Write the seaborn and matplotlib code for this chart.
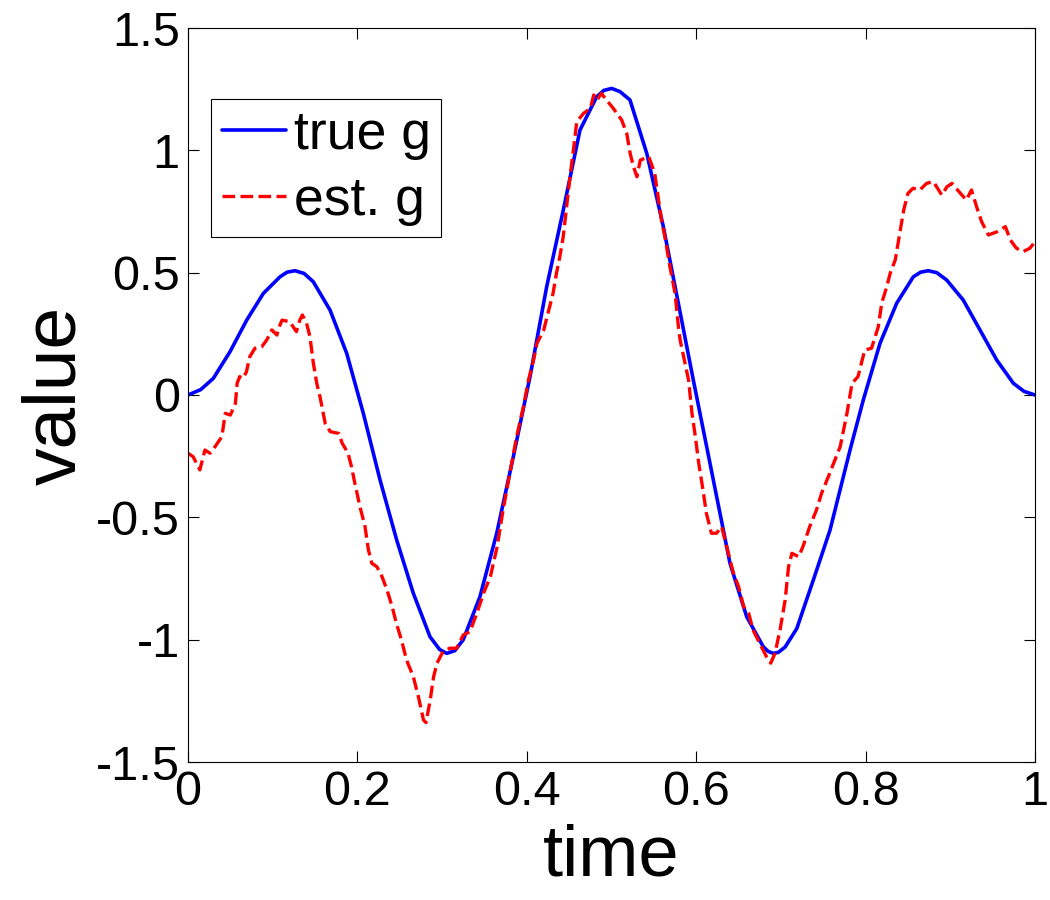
import matplotlib
matplotlib.use('Agg')
import matplotlib.pyplot as plt
import seaborn as sns
import pandas as pd

# true g
t_true = [0.0, 0.015, 0.0299, 0.0496, 0.0693, 0.0889, 0.1086, 0.117, 0.1263, 0.137, 0.1479, 0.1677, 0.1874,
          0.207, 0.2267, 0.2464, 0.266, 0.2857, 0.297, 0.3054, 0.315, 0.325, 0.3447, 0.3645, 0.3841,
          0.4038, 0.4235, 0.4431, 0.4628, 0.4825, 0.491, 0.5002, 0.51, 0.5218, 0.5416, 0.5612, 0.5789,
          0.5966, 0.6202, 0.6399, 0.6596, 0.6792, 0.685, 0.691, 0.697, 0.705, 0.7187, 0.7383, 0.758, 0.7816,
          0.7973, 0.817, 0.8367, 0.8563, 0.865, 0.874, 0.884, 0.8957, 0.9153, 0.935, 0.9548, 0.9744, 0.987, 1.0]
g_true = [0.0, 0.022, 0.068, 0.177, 0.306, 0.415, 0.483, 0.502, 0.508, 0.497, 0.463, 0.347, 0.17,
          -0.075, -0.347, -0.593, -0.81, -0.988, -1.04, -1.056, -1.045, -1.0, -0.824, -0.565, -0.252,
          0.075, 0.443, 0.756, 1.083, 1.219, 1.245, 1.253, 1.24, 1.206, 0.988, 0.688, 0.375,
          0.061, -0.347, -0.688, -0.906, -1.029, -1.048, -1.056, -1.052, -1.03, -0.955, -0.756, -0.552, -0.225,
          -0.02, 0.211, 0.375, 0.483, 0.502, 0.508, 0.5, 0.47, 0.388, 0.266, 0.143, 0.048, 0.015, 0.0]

# estimated g
t_est = [0.0, 0.006, 0.014, 0.02, 0.026, 0.032, 0.04, 0.044, 0.05, 0.056,
         0.058, 0.061, 0.065, 0.069, 0.073, 0.079, 0.087, 0.093, 0.099, 0.105,
         0.107, 0.111, 0.12, 0.128, 0.132, 0.135, 0.14, 0.144, 0.148, 0.152,
         0.156, 0.162, 0.168, 0.178, 0.182, 0.189, 0.193, 0.197, 0.203, 0.209,
         0.213, 0.217, 0.223, 0.229, 0.235, 0.241, 0.246, 0.252, 0.258, 0.266,
         0.272, 0.278, 0.281, 0.286, 0.29, 0.294, 0.301, 0.309, 0.317, 0.325,
         0.333, 0.341, 0.349, 0.357, 0.365, 0.372, 0.38, 0.388, 0.396, 0.402,
         0.408, 0.412, 0.42, 0.425, 0.431, 0.435, 0.439, 0.443, 0.447, 0.451,
         0.455, 0.459, 0.467, 0.475, 0.479, 0.483, 0.488, 0.494, 0.502, 0.512,
         0.518, 0.522, 0.526, 0.53, 0.534, 0.544, 0.551, 0.555, 0.559, 0.563,
         0.569, 0.575, 0.579, 0.581, 0.591, 0.595, 0.599, 0.603, 0.608, 0.612,
         0.618, 0.624, 0.63, 0.636, 0.644, 0.65, 0.656, 0.662, 0.667, 0.675,
         0.683, 0.688, 0.693, 0.699, 0.705, 0.709, 0.713, 0.721, 0.726, 0.734,
         0.742, 0.748, 0.756, 0.77, 0.778, 0.784, 0.791, 0.799, 0.807, 0.815,
         0.819, 0.825, 0.829, 0.835, 0.839, 0.845, 0.85, 0.856, 0.864, 0.872,
         0.88, 0.89, 0.896, 0.902, 0.912, 0.919, 0.925, 0.931, 0.937, 0.945,
         0.955, 0.965, 0.971, 0.978, 0.986, 0.994, 1.0]
g_est = [-0.238, -0.252, -0.306, -0.225, -0.238, -0.211, -0.17, -0.075, -0.082, -0.034,
         0.048, 0.075, 0.068, 0.095, 0.157, 0.191, 0.197, 0.225, 0.266, 0.245,
         0.272, 0.306, 0.3, 0.259, 0.306, 0.327, 0.293, 0.238, 0.13, 0.048,
         -0.01, -0.116, -0.15, -0.157, -0.197, -0.238, -0.293, -0.361, -0.456, -0.538,
         -0.633, -0.688, -0.702, -0.742, -0.797, -0.865, -0.933, -1.001, -1.083, -1.151,
         -1.233, -1.328, -1.339, -1.246, -1.151, -1.096, -1.049, -1.035, -1.035, -0.981,
         -0.967, -0.892, -0.81, -0.742, -0.62, -0.47, -0.32, -0.17, -0.048, 0.061,
         0.143, 0.211, 0.266, 0.334, 0.416, 0.497, 0.565, 0.647, 0.77, 0.892,
         1.001, 1.117, 1.151, 1.172, 1.226, 1.206, 1.233, 1.206, 1.172, 1.124,
         1.069, 0.988, 0.933, 0.892, 0.96, 0.974, 0.906, 0.81, 0.715, 0.647,
         0.524, 0.416, 0.279, 0.225, 0.061, -0.075, -0.17, -0.279, -0.388, -0.483,
         -0.565, -0.565, -0.538, -0.62, -0.729, -0.783, -0.865, -0.892, -0.96, -1.015,
         -1.07, -1.096, -1.056, -0.96, -0.838, -0.702, -0.647, -0.661, -0.62, -0.538,
         -0.47, -0.402, -0.334, -0.211, -0.075, 0.048, 0.075, 0.184, 0.191, 0.279,
         0.375, 0.443, 0.497, 0.552, 0.633, 0.756, 0.824, 0.845, 0.838, 0.865,
         0.872, 0.817, 0.851, 0.865, 0.824, 0.797, 0.838, 0.77, 0.708, 0.654,
         0.667, 0.688, 0.633, 0.6, 0.586, 0.6, 0.627]

xticks = [0, 0.2, 0.4, 0.6, 0.8, 1]
xticklabels = ['0', '0.2', '0.4', '0.6', '0.8', '1']
yticks = [-1.5, -1, -0.5, 0, 0.5, 1, 1.5]
yticklabels = ['-1.5', '-1', '-0.5', '0', '0.5', '1', '1.5']

df_true = pd.DataFrame({'time': t_true, 'value': g_true})
df_est = pd.DataFrame({'time': t_est, 'value': g_est})

sns.set_style('ticks')
plt.rcParams['font.family'] = ['Liberation Sans', 'DejaVu Sans']
plt.rcParams['axes.unicode_minus'] = False
for k in ['text.color', 'axes.labelcolor', 'xtick.color', 'ytick.color', 'axes.edgecolor']:
    plt.rcParams[k] = 'black'

fig = plt.figure(figsize=(10.5, 9), dpi=100)
ax = fig.add_axes([188/1050, 1-762/900, 847/1050, 734/900])

sns.lineplot(data=df_true, x='time', y='value', color='#0000ff', lw=2.6,
             label='true g', ax=ax)
sns.lineplot(data=df_est, x='time', y='value', color='#ff0000', lw=2.4,
             linestyle=(0, (3.8, 1.6)), label='est. g', ax=ax)

ax.set_xlim(0, 1)
ax.set_ylim(-1.5, 1.5)
ax.set_xticks(xticks)
ax.set_xticklabels(xticklabels)
ax.set_yticks(yticks)
ax.set_yticklabels(yticklabels)
ax.tick_params(direction='in', length=8, width=0.8, colors='black',
               labelsize=35, pad=6, top=True, right=True)
for s in ax.spines.values():
    s.set_visible(True)
    s.set_color('black')
    s.set_linewidth(0.8)

ax.set_xlabel('time', fontsize=52, labelpad=6)
ax.set_ylabel('value', fontsize=54, labelpad=4)

leg = ax.legend(loc='upper left', bbox_to_anchor=(0.027, 0.903), borderaxespad=0,
                fontsize=38.5, fancybox=False, framealpha=1, edgecolor='black',
                handlelength=1.2, handletextpad=0.15, borderpad=0.2,
                labelspacing=0.3)
leg.get_frame().set_linewidth(0.8)

fig.savefig('out.png', dpi=100, facecolor='white')
